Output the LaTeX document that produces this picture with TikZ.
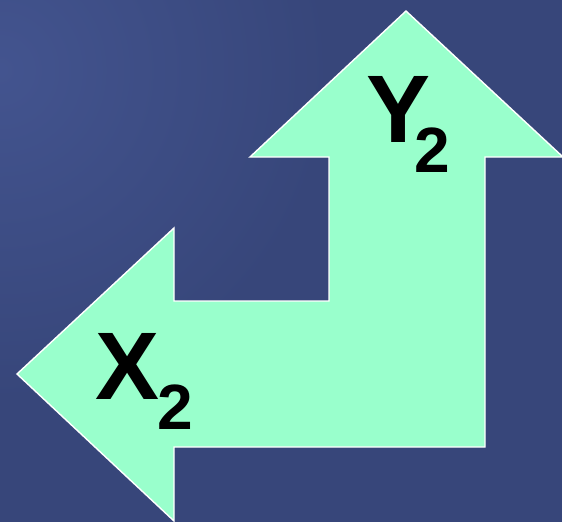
\documentclass[tikz,border=0pt]{standalone}
\usepackage{fontspec}
\setmainfont{Liberation Sans}
\usetikzlibrary{positioning}
\definecolor{bgbase}{RGB}{55,70,122}
\definecolor{bglight}{RGB}{67,84,143}
\definecolor{arrowfill}{RGB}{153,255,204}
\tikzset{
  bent/.style  ={fill=arrowfill,draw=white,line width=1.4pt,line join=miter},
  lab/.style   ={inner sep=0pt,anchor=base west,text=black,
                 font=\fontsize{96}{96}\selectfont\bfseries},
}
\newcommand{\subtwo}[1]{\kern#1\raisebox{-30pt}{\fontsize{64}{64}\selectfont 2}}

\begin{document}
\begin{tikzpicture}[x=1pt, y=-1pt]
%% background
\useasboundingbox (0,0) rectangle (562,522);
\fill[bgbase] (0,0) rectangle (562,522);
\begin{scope}
  \clip (0,0) rectangle (562,522);
  \shade[inner color=bglight, outer color=bgbase] (0,70) circle (330);
\end{scope}
%% the bent arrow: up head, then left head
\begin{scope}
  \clip (0,0) rectangle (562,522);
  \draw[bent] (406,11) -- (563,157) -- (485,157) -- (485,447)
              -- (174,447) -- (174,521) -- (17,374) -- (174,228)
              -- (174,301) -- (329,301) -- (329,157) -- (250,157) -- cycle;
\end{scope}
%% labels
\node[lab] (ylab) at (366,142) {Y\subtwo{-16pt}};
\node[lab] (xlab) at (95,399)  {X\subtwo{-2pt}};
\end{tikzpicture}
\end{document}
